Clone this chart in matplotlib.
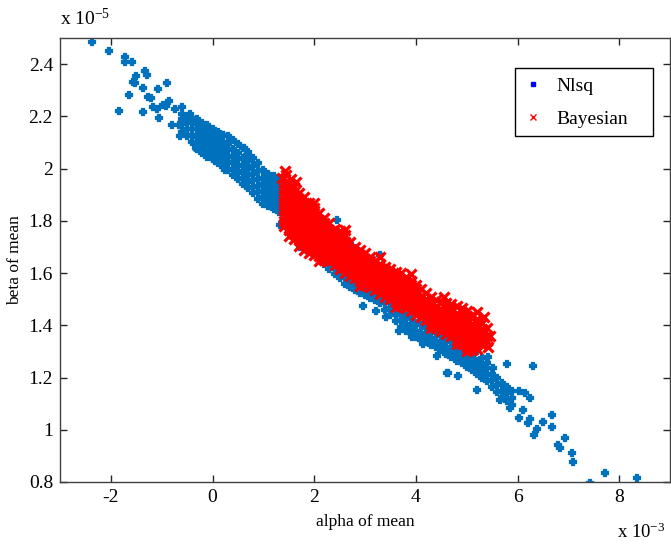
import numpy as np
import matplotlib
matplotlib.use("Agg")
from matplotlib import pyplot as plt
from matplotlib.lines import Line2D

plt.rcParams['font.family'] = ['Liberation Serif', 'DejaVu Serif']
plt.rcParams['mathtext.default'] = 'regular'

# values in units of 1e-3 (alpha) and 1e-5 (beta)
# Nlsq: dense core read column by column (alpha, list of beta)
nlsq_core = [
    (-0.6, [2.14, 2.17, 2.19, 2.21]),
    (-0.5, [2.125, 2.15, 2.18, 2.20]),
    (-0.4, [2.10, 2.13, 2.15, 2.175, 2.195]),
    (-0.3, [2.075, 2.10, 2.12, 2.15, 2.17, 2.19]),
    (-0.2, [2.06, 2.085, 2.11, 2.135, 2.155, 2.175]),
    (-0.1, [2.045, 2.07, 2.095, 2.12, 2.14, 2.165]),
    (0.0, [2.035, 2.06, 2.08, 2.105, 2.125, 2.15]),
    (0.1, [2.02, 2.045, 2.07, 2.09, 2.115, 2.14]),
    (0.2, [2.005, 2.03, 2.055, 2.08, 2.10, 2.13]),
    (0.3, [1.995, 2.02, 2.045, 2.07, 2.095, 2.125]),
    (0.4, [1.975, 2.00, 2.025, 2.05, 2.075, 2.11]),
    (0.5, [1.96, 1.985, 2.01, 2.035, 2.06, 2.095]),
    (0.6, [1.94, 1.965, 1.99, 2.015, 2.04, 2.08]),
    (0.7, [1.925, 1.95, 1.975, 2.00, 2.03, 2.065]),
    (0.8, [1.905, 1.93, 1.955, 1.98, 2.01, 2.04]),
    (0.9, [1.885, 1.91, 1.935, 1.96, 1.99, 2.02]),
    (1.0, [1.865, 1.89, 1.915, 1.94, 1.965, 1.995]),
    (1.1, [1.855, 1.88, 1.905, 1.93, 1.955, 1.98]),
    (1.2, [1.845, 1.87, 1.895, 1.92, 1.945, 1.97]),
    (1.3, [1.835, 1.86, 1.885, 1.91, 1.935, 1.955]),
    (1.4, [1.805, 1.83, 1.855, 1.88, 1.905, 1.94]),
    (1.5, [1.78, 1.805, 1.83, 1.855, 1.88, 1.92]),
    (1.6, [1.755, 1.78, 1.805, 1.83, 1.86, 1.90]),
    (1.7, [1.735, 1.76, 1.785, 1.81, 1.84, 1.88]),
    (1.8, [1.715, 1.74, 1.765, 1.79, 1.82, 1.86]),
    (1.9, [1.695, 1.72, 1.745, 1.77, 1.80, 1.84]),
    (2.0, [1.675, 1.70, 1.725, 1.75, 1.78, 1.83]),
    (2.1, [1.655, 1.68, 1.71, 1.735, 1.765, 1.81]),
    (2.2, [1.635, 1.66, 1.69, 1.72, 1.75, 1.795]),
    (2.3, [1.615, 1.64, 1.67, 1.70, 1.735, 1.78]),
    (2.4, [1.595, 1.62, 1.65, 1.68, 1.715, 1.76]),
    (2.5, [1.58, 1.605, 1.635, 1.665, 1.70, 1.745]),
    (2.6, [1.56, 1.585, 1.615, 1.645, 1.68, 1.73]),
    (2.7, [1.545, 1.57, 1.60, 1.63, 1.665, 1.71]),
    (2.8, [1.535, 1.56, 1.59, 1.62, 1.65, 1.695]),
    (2.9, [1.525, 1.55, 1.58, 1.61, 1.64, 1.68]),
    (3.0, [1.515, 1.54, 1.57, 1.60, 1.63, 1.665]),
    (3.1, [1.505, 1.53, 1.56, 1.59, 1.62, 1.65]),
    (3.2, [1.495, 1.52, 1.55, 1.58, 1.61, 1.64]),
    (3.3, [1.485, 1.51, 1.54, 1.57, 1.60, 1.625]),
    (3.4, [1.46, 1.485, 1.515, 1.545, 1.575, 1.61]),
    (3.5, [1.44, 1.465, 1.495, 1.525, 1.56, 1.60]),
    (3.6, [1.415, 1.44, 1.47, 1.50, 1.535, 1.585]),
    (3.7, [1.395, 1.42, 1.45, 1.485, 1.52, 1.57]),
    (3.8, [1.38, 1.405, 1.435, 1.47, 1.505, 1.555]),
    (3.9, [1.37, 1.395, 1.425, 1.46, 1.495, 1.54]),
    (4.0, [1.355, 1.38, 1.41, 1.445, 1.48, 1.52]),
    (4.1, [1.345, 1.37, 1.40, 1.435, 1.47, 1.505]),
    (4.2, [1.335, 1.36, 1.39, 1.42, 1.455, 1.49]),
    (4.3, [1.325, 1.35, 1.38, 1.41, 1.44, 1.475]),
    (4.4, [1.315, 1.34, 1.37, 1.40, 1.43, 1.46]),
    (4.5, [1.305, 1.33, 1.36, 1.39, 1.42, 1.445]),
    (4.6, [1.29, 1.315, 1.345, 1.375, 1.405, 1.43]),
    (4.7, [1.28, 1.305, 1.335, 1.365, 1.39, 1.41]),
    (4.8, [1.265, 1.29, 1.32, 1.35, 1.375, 1.395]),
    (4.9, [1.255, 1.28, 1.305, 1.33, 1.355, 1.375]),
    (5.0, [1.24, 1.265, 1.29, 1.315, 1.35]),
    (5.1, [1.23, 1.255, 1.28, 1.305, 1.325]),
    (5.2, [1.215, 1.24, 1.265, 1.30]),
    (5.3, [1.20, 1.225, 1.25, 1.275]),
    (5.4, [1.185, 1.21, 1.235, 1.255]),
    (5.5, [1.165, 1.19, 1.215]),
    (5.6, [1.145, 1.17, 1.20]),
    (5.7, [1.125, 1.15, 1.18]),
    (5.8, [1.11, 1.14, 1.165]),
    (5.9, [1.095, 1.12, 1.15]),
]

# Nlsq: scattered points outside the core
nlsq_sparse_x = [-2.37, -2.04, -1.72, -1.72, -1.58, -1.33, -1.50, -1.29, -1.56, -1.52,
                 -1.37, -1.07, -0.89, -1.64, -1.27, -1.21, -1.84, -1.37, -1.05, -1.17,
                 -1.09, -0.97, -0.85, -0.91, -0.74, -0.60, -0.44, -0.80, -0.66, -0.64,
                 -0.56, -0.32, 0.21, 0.62, 0.68, 0.05, 0.25, 1.33, 1.72,
                 2.45, 3.30, 3.95, 2.96, 3.22, 3.42, 3.67, 3.93, 4.15, 4.42,
                 4.62, 4.83, 5.21, 5.41, 5.80, 6.31, 4.64, 5.52, 6.02, 6.15,
                 6.25, 5.86, 6.02, 6.21, 6.39, 6.33, 6.51, 6.67, 6.67, 6.94,
                 6.84, 6.80, 7.08, 7.10, 7.43, 7.73, 8.36, 6.11, 5.66, 6.25]
nlsq_sparse_y = [2.485, 2.450, 2.427, 2.408, 2.408, 2.374, 2.354, 2.358, 2.331, 2.328,
                 2.308, 2.305, 2.328, 2.282, 2.274, 2.270, 2.220, 2.217, 2.193, 2.236,
                 2.228, 2.243, 2.259, 2.239, 2.228, 2.236, 2.209, 2.167, 2.167, 2.125,
                 2.193, 2.079, 2.128, 2.079, 2.052, 2.029, 1.994, 1.784, 1.700,
                 1.803, 1.669, 1.554, 1.473, 1.454, 1.431, 1.377, 1.354, 1.328, 1.282,
                 1.217, 1.205, 1.151, 1.278, 1.251, 1.243, 1.216, 1.236, 1.148, 1.140,
                 1.120, 1.082, 1.044, 1.025, 1.002, 0.979, 1.029, 1.056, 1.010, 0.967,
                 0.929, 0.940, 0.910, 0.876, 0.795, 0.833, 0.814, 1.074, 1.113, 1.040]

# Bayesian: dense core read column by column
bayes_core = [
    (1.4, [1.78, 1.80, 1.82, 1.84, 1.86, 1.88, 1.90, 1.92, 1.94]),
    (1.5, [1.765, 1.785, 1.805, 1.825, 1.845, 1.865, 1.885, 1.905, 1.925, 1.945]),
    (1.6, [1.73, 1.75, 1.77, 1.79, 1.81, 1.83, 1.85, 1.87, 1.89, 1.91, 1.93]),
    (1.7, [1.705, 1.725, 1.745, 1.765, 1.785, 1.805, 1.825, 1.845, 1.865, 1.885, 1.905]),
    (1.8, [1.69, 1.71, 1.73, 1.75, 1.77, 1.79, 1.81, 1.83, 1.85, 1.87, 1.89]),
    (1.9, [1.675, 1.695, 1.715, 1.735, 1.755, 1.775, 1.795, 1.815, 1.835, 1.855, 1.87]),
    (2.0, [1.67, 1.69, 1.71, 1.73, 1.75, 1.77, 1.79, 1.81, 1.83, 1.85]),
    (2.1, [1.665, 1.685, 1.705, 1.725, 1.745, 1.765, 1.785, 1.805, 1.83]),
    (2.2, [1.65, 1.67, 1.69, 1.71, 1.73, 1.75, 1.77, 1.79, 1.81]),
    (2.3, [1.645, 1.665, 1.685, 1.705, 1.725, 1.745, 1.765, 1.79]),
    (2.4, [1.63, 1.65, 1.67, 1.69, 1.71, 1.73, 1.75, 1.77]),
    (2.5, [1.615, 1.635, 1.655, 1.675, 1.695, 1.715, 1.735, 1.76]),
    (2.6, [1.60, 1.62, 1.64, 1.66, 1.68, 1.70, 1.72, 1.745]),
    (2.7, [1.59, 1.61, 1.63, 1.65, 1.67, 1.69, 1.72]),
    (2.8, [1.58, 1.60, 1.62, 1.64, 1.66, 1.68, 1.70]),
    (2.9, [1.57, 1.59, 1.61, 1.63, 1.65, 1.67, 1.69]),
    (3.0, [1.555, 1.575, 1.595, 1.615, 1.635, 1.655, 1.675]),
    (3.1, [1.545, 1.565, 1.585, 1.605, 1.625, 1.645, 1.66]),
    (3.2, [1.535, 1.555, 1.575, 1.595, 1.615, 1.645]),
    (3.3, [1.52, 1.54, 1.56, 1.58, 1.60, 1.62, 1.635]),
    (3.4, [1.51, 1.53, 1.55, 1.57, 1.59, 1.61, 1.625]),
    (3.5, [1.50, 1.52, 1.54, 1.56, 1.58, 1.60, 1.615]),
    (3.6, [1.49, 1.51, 1.53, 1.55, 1.57, 1.59, 1.605]),
    (3.7, [1.475, 1.495, 1.515, 1.535, 1.555, 1.575, 1.60]),
    (3.8, [1.465, 1.485, 1.505, 1.525, 1.545, 1.565, 1.585]),
    (3.9, [1.455, 1.475, 1.495, 1.515, 1.535, 1.555, 1.57]),
    (4.0, [1.44, 1.46, 1.48, 1.50, 1.52, 1.54, 1.555]),
    (4.1, [1.43, 1.45, 1.47, 1.49, 1.51, 1.54]),
    (4.2, [1.42, 1.44, 1.46, 1.48, 1.50, 1.525]),
    (4.3, [1.405, 1.425, 1.445, 1.465, 1.485, 1.51]),
    (4.4, [1.39, 1.41, 1.43, 1.45, 1.47, 1.495]),
    (4.5, [1.38, 1.40, 1.42, 1.44, 1.46, 1.49]),
    (4.6, [1.365, 1.385, 1.405, 1.425, 1.445, 1.465, 1.485]),
    (4.7, [1.36, 1.38, 1.40, 1.42, 1.44, 1.46, 1.48]),
    (4.8, [1.345, 1.365, 1.385, 1.405, 1.425, 1.445, 1.475]),
    (4.9, [1.33, 1.35, 1.37, 1.39, 1.41, 1.43, 1.45, 1.465]),
    (5.0, [1.315, 1.335, 1.355, 1.375, 1.395, 1.415, 1.435, 1.455]),
    (5.1, [1.305, 1.325, 1.345, 1.365, 1.385, 1.405, 1.44]),
    (5.2, [1.31, 1.33, 1.35, 1.37, 1.39, 1.41, 1.425]),
    (5.3, [1.325, 1.345, 1.365, 1.385, 1.41]),
    (5.4, [1.34, 1.36, 1.39]),
]

bayes_sparse_x = [1.43, 1.37, 1.45, 1.55, 1.65, 2.0, 2.6, 3.3, 3.9, 4.55,
                  5.2, 5.35, 5.41, 5.45, 1.5, 2.1, 2.9, 3.6, 4.3, 5.0, 4.8]
bayes_sparse_y = [1.99, 1.965, 1.975, 1.96, 1.95, 1.87, 1.765, 1.66, 1.595, 1.51,
                  1.45, 1.43, 1.316, 1.36, 1.74, 1.645, 1.55, 1.47, 1.39, 1.30, 1.33]

nlsq_x = [c[0] for c in nlsq_core for _ in c[1]] + nlsq_sparse_x
nlsq_y = [v for c in nlsq_core for v in c[1]] + nlsq_sparse_y
bayes_x = [c[0] for c in bayes_core for _ in c[1]] + bayes_sparse_x
bayes_y = [v for c in bayes_core for v in c[1]] + bayes_sparse_y

fig = plt.figure(figsize=(6.71, 5.47), dpi=100)
ax = fig.add_axes([60/671, 65/547, 610/671, 444/547])

ax.plot(nlsq_x, nlsq_y, linestyle='none', marker='P', markersize=5,
        markeredgewidth=1.6, color='#0072BD')
ax.plot(bayes_x, bayes_y, linestyle='none', marker='x', markersize=6.5,
        markeredgewidth=2.3, color='#FF0000')

ax.set_xlim(-3, 9)
ax.set_ylim(0.8, 2.5)
ax.set_xticks([-2, 0, 2, 4, 6, 8])
ax.set_xticklabels(['-2', '0', '2', '4', '6', '8'])
ax.set_yticks([0.8, 1, 1.2, 1.4, 1.6, 1.8, 2, 2.2, 2.4])
ax.set_yticklabels(['0.8', '1', '1.2', '1.4', '1.6', '1.8', '2', '2.2', '2.4'])
ax.tick_params(direction='in', top=True, right=True, length=5, width=1,
               labelsize=14, colors='#262626', labelcolor='black', pad=5)
for s in ax.spines.values():
    s.set_color('#404040')
    s.set_linewidth(1)

ax.set_xlabel('alpha of mean', fontsize=12.5, labelpad=6)
ax.set_ylabel('beta of mean', fontsize=12.5, labelpad=4)

ax.text(0.0, 1.02, 'x 10$^{-5}$', transform=ax.transAxes, fontsize=14,
        ha='left', va='bottom')
ax.text(0.913, -0.125, 'x 10$^{-3}$', transform=ax.transAxes, fontsize=13.5,
        ha='left', va='baseline')

handles = [Line2D([], [], linestyle='none', marker='s', markersize=2.5, color='blue'),
           Line2D([], [], linestyle='none', marker='x', markersize=5, markeredgewidth=1, color='red')]
ax.legend(handles, ['Nlsq', 'Bayesian'], loc='upper left',
          bbox_to_anchor=(0.746, 0.779, 0.226, 0.153), mode='expand',
          borderaxespad=0, fontsize=14, frameon=True, fancybox=False, edgecolor='black',
          framealpha=1, handlelength=0.9, handletextpad=0.8, borderpad=0.45,
          labelspacing=0.8)

fig.savefig('out.png', dpi=100)
